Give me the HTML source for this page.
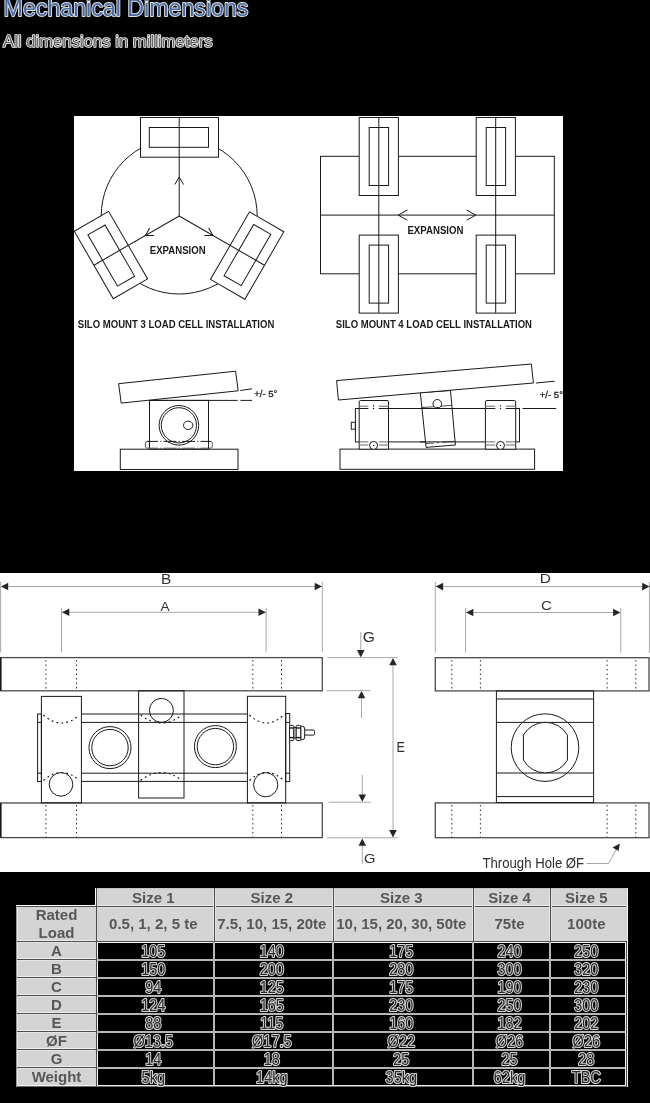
<!DOCTYPE html>
<html><head><meta charset="utf-8">
<style>
html,body{margin:0;padding:0;background:#000;width:650px;height:1103px;overflow:hidden;position:relative;font-family:"Liberation Sans",sans-serif;}
svg.d{position:absolute;left:0;top:0;will-change:transform;}
svg text{font-family:"Liberation Sans",sans-serif;}
</style></head><body>
<svg class="d" width="650" height="1103" viewBox="0 0 650 1103">
<defs><clipPath id="c1"><rect x="74" y="116" width="489" height="355"/></clipPath></defs>
<text x="3.6" y="16" font-size="23.2" fill="#4569a2" stroke="#e2e2e2" stroke-width="1.8" paint-order="stroke" stroke-linejoin="round">Mechanical Dimensions</text>
<text x="3" y="47" font-size="16.7" fill="#666" stroke="#f4f4f4" stroke-width="1.6" paint-order="stroke" stroke-linejoin="round">All dimensions in millimeters</text>
<rect x="74" y="116" width="489" height="355" fill="#fff"/>
<g clip-path="url(#c1)">
<circle cx="179.2" cy="216" r="78" fill="none" stroke="#1a1a1a" stroke-width="1"/>
<g transform="rotate(0 179.2 216)"><rect x="140.5" y="117.5" width="78" height="39.7" fill="#fff" stroke="#1a1a1a"/><rect x="149.3" y="127.5" width="59.2" height="19.8" fill="none" stroke="#1a1a1a"/><line x1="179.2" y1="117.5" x2="179.2" y2="216" stroke="#1a1a1a"/><polyline points="174.89999999999998,184.5 179.2,177 183.5,184.5" fill="none" stroke="#1a1a1a"/></g>
<g transform="rotate(120 179.2 216)"><rect x="140.5" y="117.5" width="78" height="39.7" fill="#fff" stroke="#1a1a1a"/><rect x="149.3" y="127.5" width="59.2" height="19.8" fill="none" stroke="#1a1a1a"/><line x1="179.2" y1="117.5" x2="179.2" y2="216" stroke="#1a1a1a"/><polyline points="174.89999999999998,184.5 179.2,177 183.5,184.5" fill="none" stroke="#1a1a1a"/></g>
<g transform="rotate(240 179.2 216)"><rect x="140.5" y="117.5" width="78" height="39.7" fill="#fff" stroke="#1a1a1a"/><rect x="149.3" y="127.5" width="59.2" height="19.8" fill="none" stroke="#1a1a1a"/><line x1="179.2" y1="117.5" x2="179.2" y2="216" stroke="#1a1a1a"/><polyline points="174.89999999999998,184.5 179.2,177 183.5,184.5" fill="none" stroke="#1a1a1a"/></g>
<text transform="matrix(0.9596 0 0 1.0625 149.84 253.80)" font-size="10" font-weight="bold" fill="#1a1a1a" >EXPANSION</text>
<text transform="matrix(0.9299 0 0 1.0625 77.80 327.80)" font-size="10.3" font-weight="bold" fill="#1a1a1a" >SILO MOUNT 3 LOAD CELL INSTALLATION</text>
<rect x="320.5" y="156.3" width="233.8" height="117.5" fill="none" stroke="#1a1a1a"/>
<line x1="320.5" y1="215.1" x2="554.3" y2="215.1" stroke="#1a1a1a"/>
<rect x="359.2" y="117.5" width="39.2" height="78" fill="#fff" stroke="#1a1a1a"/>
<rect x="369.2" y="127.5" width="19.4" height="58" fill="none" stroke="#1a1a1a"/>
<rect x="476.2" y="117.5" width="39.2" height="78" fill="#fff" stroke="#1a1a1a"/>
<rect x="486.2" y="127.5" width="19.4" height="58" fill="none" stroke="#1a1a1a"/>
<rect x="359.2" y="235.1" width="39.2" height="78" fill="#fff" stroke="#1a1a1a"/>
<rect x="369.2" y="245.1" width="19.4" height="58" fill="none" stroke="#1a1a1a"/>
<rect x="476.2" y="235.1" width="39.2" height="78" fill="#fff" stroke="#1a1a1a"/>
<rect x="486.2" y="245.1" width="19.4" height="58" fill="none" stroke="#1a1a1a"/>
<line x1="378.8" y1="117.5" x2="378.8" y2="312.9" stroke="#1a1a1a"/>
<line x1="495.7" y1="117.5" x2="495.7" y2="312.9" stroke="#1a1a1a"/>
<polyline points="407.4,210 398.2,215.1 407.4,220.2" fill="none" stroke="#1a1a1a"/>
<polyline points="466.6,210 475.8,215.1 466.6,220.2" fill="none" stroke="#1a1a1a"/>
<text transform="matrix(0.9649 0 0 1.0250 407.44 233.50)" font-size="10" font-weight="bold" fill="#1a1a1a" >EXPANSION</text>
<text transform="matrix(0.9284 0 0 1.0500 335.80 327.70)" font-size="10.3" font-weight="bold" fill="#1a1a1a" >SILO MOUNT 4 LOAD CELL INSTALLATION</text>
<rect x="120.3" y="449.2" width="117.7" height="20.3" fill="none" stroke="#1a1a1a"/>
<line x1="149.5" y1="400.4" x2="237.7" y2="400.4" stroke="#1a1a1a"/>
<line x1="240.5" y1="400.4" x2="252" y2="400.4" stroke="#1a1a1a"/>
<rect x="149.5" y="400.4" width="59" height="48.8" fill="none" stroke="#1a1a1a"/>
<polygon points="118.6,383.7 235.6,371.2 238.2,390.8 121.2,403.1" fill="#fff" stroke="#1a1a1a"/>
<line x1="240.3" y1="390.5" x2="252" y2="388.8" stroke="#1a1a1a"/>
<circle cx="178.9" cy="425.3" r="19.8" fill="#fff" stroke="#1a1a1a"/>
<circle cx="178.9" cy="425.3" r="17.6" fill="none" stroke="#1a1a1a"/>
<ellipse cx="188.2" cy="425.3" rx="4.7" ry="4.2" fill="none" stroke="#1a1a1a"/>
<path d="M147.4,441.4 Q145.4,441.4 145.4,443.4 V446.2 Q145.4,448.2 147.4,448.2 M210.3,441.4 Q212.3,441.4 212.3,443.4 V446.2 Q212.3,448.2 210.3,448.2" fill="none" stroke="#555"/>
<line x1="147" y1="441.4" x2="210.6" y2="441.4" stroke="#1a1a1a" stroke-dasharray="11,2.2,1.2,2.2,12.8,2.2,1.2,2.2,13,2.2,1.2,2.2,20"/>
<line x1="147" y1="448.2" x2="210.6" y2="448.2" stroke="#555" stroke-dasharray="11,2.2,1.2,2.2,12.8,2.2,1.2,2.2,13,2.2,1.2,2.2,20"/>
<text transform="matrix(0.9542 0 0 0.8875 254.20 397.30)" font-size="10" font-weight="normal" fill="#1a1a1a" stroke="#1a1a1a" stroke-width="0.3">+/- 5°</text>
<rect x="340" y="449.1" width="194.6" height="20.2" fill="none" stroke="#1a1a1a"/>
<rect x="355.4" y="408.5" width="164.1" height="33.4" fill="none" stroke="#1a1a1a"/>
<rect x="351.3" y="422.3" width="4.1" height="6.9" fill="none" stroke="#1a1a1a"/>
<line x1="522.5" y1="408.5" x2="556.2" y2="408.5" stroke="#1a1a1a"/>
<path d="M359.2,449.2 V402 Q359.2,400.5 360.7,400.5 H387.0 Q388.5,400.5 388.5,402 V449.2 Z" fill="#fff" stroke="#1a1a1a"/>
<line x1="359.2" y1="406.2" x2="368.40000000000003" y2="406.2" stroke="#6a6a6a" stroke-width="1"/>
<line x1="378.8" y1="406.2" x2="388.5" y2="406.2" stroke="#6a6a6a" stroke-width="1"/>
<line x1="359.2" y1="408.5" x2="368.40000000000003" y2="408.5" stroke="#1a1a1a" stroke-width="1"/>
<line x1="378.8" y1="408.5" x2="388.5" y2="408.5" stroke="#1a1a1a" stroke-width="1"/>
<line x1="359.2" y1="441.9" x2="368.40000000000003" y2="441.9" stroke="#6a6a6a" stroke-width="1"/>
<line x1="378.8" y1="441.9" x2="388.5" y2="441.9" stroke="#6a6a6a" stroke-width="1"/>
<line x1="359.2" y1="445.0" x2="368.40000000000003" y2="445.0" stroke="#6a6a6a" stroke-width="1"/>
<line x1="378.8" y1="445.0" x2="388.5" y2="445.0" stroke="#6a6a6a" stroke-width="1"/>
<circle cx="373.6" cy="405.8" r="0.7" fill="#1a1a1a"/><circle cx="373.6" cy="408.5" r="0.7" fill="#1a1a1a"/>
<circle cx="373.6" cy="445.4" r="4" fill="#fff" stroke="#1a1a1a"/>
<circle cx="373.6" cy="445.4" r="0.7" fill="#1a1a1a"/>
<path d="M485.4,449.2 V402 Q485.4,400.5 486.9,400.5 H514.1999999999999 Q515.6999999999999,400.5 515.6999999999999,402 V449.2 Z" fill="#fff" stroke="#1a1a1a"/>
<line x1="485.4" y1="406.2" x2="495.3" y2="406.2" stroke="#6a6a6a" stroke-width="1"/>
<line x1="505.7" y1="406.2" x2="515.6999999999999" y2="406.2" stroke="#6a6a6a" stroke-width="1"/>
<line x1="485.4" y1="408.5" x2="495.3" y2="408.5" stroke="#1a1a1a" stroke-width="1"/>
<line x1="505.7" y1="408.5" x2="515.6999999999999" y2="408.5" stroke="#1a1a1a" stroke-width="1"/>
<line x1="485.4" y1="441.9" x2="495.3" y2="441.9" stroke="#6a6a6a" stroke-width="1"/>
<line x1="505.7" y1="441.9" x2="515.6999999999999" y2="441.9" stroke="#6a6a6a" stroke-width="1"/>
<line x1="485.4" y1="445.0" x2="495.3" y2="445.0" stroke="#6a6a6a" stroke-width="1"/>
<line x1="505.7" y1="445.0" x2="515.6999999999999" y2="445.0" stroke="#6a6a6a" stroke-width="1"/>
<circle cx="500.5" cy="405.8" r="0.7" fill="#1a1a1a"/><circle cx="500.5" cy="408.5" r="0.7" fill="#1a1a1a"/>
<circle cx="500.5" cy="445.4" r="4" fill="#fff" stroke="#1a1a1a"/>
<circle cx="500.5" cy="445.4" r="0.7" fill="#1a1a1a"/>
<polygon points="420.3,392.7 450.5,390.5 455.4,445 426.1,447.4" fill="#fff" stroke="#1a1a1a"/>
<line x1="420" y1="408.5" x2="456" y2="408.5" stroke="#1a1a1a"/>
<line x1="420" y1="441.9" x2="456" y2="441.9" stroke="#1a1a1a"/>
<line x1="421.7" y1="407.6" x2="451.8" y2="405.4" stroke="#1a1a1a" stroke-width="0.8"/>
<line x1="425.8" y1="443.6" x2="454.9" y2="441.2" stroke="#1a1a1a" stroke-width="0.8" stroke-dasharray="8,3,2,3,12"/>
<circle cx="437.3" cy="403.8" r="4.3" fill="#fff" stroke="#1a1a1a"/>
<circle cx="437.3" cy="407.6" r="0.9" fill="#1a1a1a"/>
<polygon points="336.6,380.6 531.4,364 533.4,383 338.4,400" fill="#fff" stroke="#1a1a1a"/>
<line x1="536" y1="383" x2="554.6" y2="381.2" stroke="#1a1a1a"/>
<text transform="matrix(0.9542 0 0 0.8875 539.80 398.20)" font-size="10" font-weight="normal" fill="#1a1a1a" stroke="#1a1a1a" stroke-width="0.3">+/- 5°</text>
</g>
<rect x="0" y="573" width="650" height="299" fill="#fff"/>
<line x1="2" y1="586.5" x2="322" y2="586.5" stroke="#a8a8a8" stroke-width="1"/>
<line x1="0.6" y1="581.8" x2="0.6" y2="652.4" stroke="#a8a8a8" stroke-width="1"/>
<line x1="322.3" y1="581.8" x2="322.3" y2="652.4" stroke="#a8a8a8" stroke-width="1"/>
<polygon points="0.9,586.5 8.2,582.7 8.2,590.3" fill="#262626"/>
<polygon points="322,586.5 314.7,582.7 314.7,590.3" fill="#262626"/>
<line x1="62" y1="612.3" x2="266" y2="612.3" stroke="#a8a8a8" stroke-width="1"/>
<line x1="61.5" y1="608" x2="61.5" y2="652.4" stroke="#a8a8a8" stroke-width="1"/>
<line x1="266.1" y1="608" x2="266.1" y2="652.4" stroke="#a8a8a8" stroke-width="1"/>
<polygon points="62,612.3 69.3,608.5 69.3,616.0999999999999" fill="#262626"/>
<polygon points="265.8,612.3 258.5,608.5 258.5,616.0999999999999" fill="#262626"/>
<line x1="436" y1="586.6" x2="648.5" y2="586.6" stroke="#a8a8a8" stroke-width="1"/>
<line x1="435.3" y1="582" x2="435.3" y2="652.7" stroke="#a8a8a8" stroke-width="1"/>
<line x1="649.4" y1="582" x2="649.4" y2="652.7" stroke="#a8a8a8" stroke-width="1"/>
<polygon points="435.8,586.6 443.1,582.8000000000001 443.1,590.4" fill="#262626"/>
<polygon points="649.5,586.6 642.2,582.8000000000001 642.2,590.4" fill="#262626"/>
<line x1="466" y1="612.5" x2="620.5" y2="612.5" stroke="#a8a8a8" stroke-width="1"/>
<line x1="465.6" y1="607.8" x2="465.6" y2="652.7" stroke="#a8a8a8" stroke-width="1"/>
<line x1="620.8" y1="607.8" x2="620.8" y2="652.7" stroke="#a8a8a8" stroke-width="1"/>
<polygon points="466.1,612.5 473.40000000000003,608.7 473.40000000000003,616.3" fill="#262626"/>
<polygon points="620.4,612.5 613.1,608.7 613.1,616.3" fill="#262626"/>
<line x1="360.8" y1="632.2" x2="360.8" y2="652" stroke="#a8a8a8" stroke-width="1"/>
<polygon points="360.8,657.4 357.0,650.1 364.6,650.1" fill="#262626"/>
<line x1="327.3" y1="657.6" x2="397.4" y2="657.6" stroke="#a8a8a8" stroke-width="1"/>
<line x1="326.4" y1="690.7" x2="370.8" y2="690.7" stroke="#a8a8a8" stroke-width="1"/>
<line x1="328.5" y1="802.2" x2="370.8" y2="802.2" stroke="#a8a8a8" stroke-width="1"/>
<line x1="327.1" y1="837.8" x2="397.7" y2="837.8" stroke="#a8a8a8" stroke-width="1"/>
<line x1="361.5" y1="697" x2="361.5" y2="718" stroke="#a8a8a8" stroke-width="1"/>
<polygon points="361.5,691 357.7,698.3 365.3,698.3" fill="#262626"/>
<line x1="362.3" y1="774.8" x2="362.3" y2="795" stroke="#a8a8a8" stroke-width="1"/>
<polygon points="362.3,801.8 358.5,794.5 366.1,794.5" fill="#262626"/>
<line x1="393" y1="664" x2="393" y2="831" stroke="#a8a8a8" stroke-width="1"/>
<polygon points="393,658 389.2,665.3 396.8,665.3" fill="#262626"/>
<polygon points="393,837.4 389.2,830.1 396.8,830.1" fill="#262626"/>
<line x1="362.3" y1="844" x2="362.3" y2="863.8" stroke="#a8a8a8" stroke-width="1"/>
<polygon points="362.3,838.5 358.5,845.8 366.1,845.8" fill="#262626"/>
<text transform="matrix(1.1571 0 0 1.0778 161.04 583.90)" font-size="13.3" font-weight="normal" fill="#2e2e2e" >B</text>
<text transform="matrix(1.0222 0 0 1.0222 160.50 610.60)" font-size="13.3" font-weight="normal" fill="#2e2e2e" >A</text>
<text transform="matrix(1.1625 0 0 1.0000 539.84 583.00)" font-size="13.3" font-weight="normal" fill="#2e2e2e" >D</text>
<text transform="matrix(1.1250 0 0 1.0222 540.88 609.70)" font-size="13.3" font-weight="normal" fill="#2e2e2e" >C</text>
<text transform="matrix(1.1667 0 0 1.0667 362.73 642.40)" font-size="13.3" font-weight="normal" fill="#2e2e2e" >G</text>
<text transform="matrix(0.9375 0 0 1.0889 396.56 752.40)" font-size="13.3" font-weight="normal" fill="#2e2e2e" >E</text>
<text transform="matrix(1.1111 0 0 0.9778 363.89 863.00)" font-size="13.3" font-weight="normal" fill="#2e2e2e" >G</text>
<text transform="matrix(0.9902 0 0 1.0667 482.50 867.50)" font-size="13.3" font-weight="normal" fill="#2e2e2e" >Through Hole ØF</text>
<polyline points="586.5,863.5 608.5,863.5 616.5,849" fill="none" stroke="#a8a8a8"/>
<polygon points="619.9,843.5 612.5,847.5 618.5,851" fill="#262626"/>
<rect x="0.8" y="657.6" width="321.5" height="33.2" fill="none" stroke="#4a4a4a" stroke-width="1.3"/>
<rect x="0.8" y="803" width="321.5" height="34.6" fill="none" stroke="#4a4a4a" stroke-width="1.3"/>
<line x1="0.7" y1="657.6" x2="0.7" y2="690.8" stroke="#1a1a1a" stroke-width="1.4"/>
<line x1="0.7" y1="803" x2="0.7" y2="837.6" stroke="#1a1a1a" stroke-width="1.4"/>
<line x1="45.9" y1="660" x2="45.9" y2="690" stroke="#1a1a1a" stroke-width="0.9" stroke-dasharray="1.5,3"/>
<line x1="45.9" y1="805" x2="45.9" y2="837" stroke="#1a1a1a" stroke-width="0.9" stroke-dasharray="1.5,3"/>
<line x1="76.5" y1="660" x2="76.5" y2="690" stroke="#1a1a1a" stroke-width="0.9" stroke-dasharray="1.5,3"/>
<line x1="76.5" y1="805" x2="76.5" y2="837" stroke="#1a1a1a" stroke-width="0.9" stroke-dasharray="1.5,3"/>
<line x1="252.8" y1="660" x2="252.8" y2="690" stroke="#1a1a1a" stroke-width="0.9" stroke-dasharray="1.5,3"/>
<line x1="252.8" y1="805" x2="252.8" y2="837" stroke="#1a1a1a" stroke-width="0.9" stroke-dasharray="1.5,3"/>
<line x1="281.5" y1="660" x2="281.5" y2="690" stroke="#1a1a1a" stroke-width="0.9" stroke-dasharray="1.5,3"/>
<line x1="281.5" y1="805" x2="281.5" y2="837" stroke="#1a1a1a" stroke-width="0.9" stroke-dasharray="1.5,3"/>
<rect x="37.6" y="714" width="3.8" height="67.6" fill="none" stroke="#1a1a1a"/>
<line x1="37.6" y1="722.4" x2="41.4" y2="722.4" stroke="#1a1a1a" stroke-width="1"/>
<line x1="37.6" y1="773.2" x2="41.4" y2="773.2" stroke="#1a1a1a" stroke-width="1"/>
<rect x="285.7" y="713.5" width="4" height="68.1" fill="none" stroke="#1a1a1a"/>
<line x1="285.7" y1="722.4" x2="289.7" y2="722.4" stroke="#1a1a1a" stroke-width="1"/>
<line x1="285.7" y1="773.2" x2="289.7" y2="773.2" stroke="#1a1a1a" stroke-width="1"/>
<line x1="81.4" y1="714" x2="247.4" y2="714" stroke="#1a1a1a" stroke-width="1"/>
<line x1="81.4" y1="722.4" x2="247.4" y2="722.4" stroke="#1a1a1a" stroke-width="1"/>
<line x1="81.4" y1="773.2" x2="247.4" y2="773.2" stroke="#1a1a1a" stroke-width="1"/>
<line x1="81.4" y1="781.4" x2="247.4" y2="781.4" stroke="#1a1a1a" stroke-width="1"/>
<rect x="41.4" y="696.4" width="40" height="106.4" fill="none" stroke="#1a1a1a"/>
<rect x="247.4" y="696.3" width="38.3" height="106.5" fill="none" stroke="#1a1a1a"/>
<rect x="138.6" y="690.8" width="45.4" height="107.2" fill="none" stroke="#1a1a1a"/>
<path d="M43.4,715 Q61.400000000000006,731 79.4,715" fill="none" stroke="#1a1a1a" stroke-width="1.2" stroke-dasharray="1.8,3.2"/>
<path d="M43.4,780.5 Q61.400000000000006,764.5 79.4,780.5" fill="none" stroke="#1a1a1a" stroke-width="1.2" stroke-dasharray="1.8,3.2"/>
<path d="M140.6,715 Q161.3,731 182,715" fill="none" stroke="#1a1a1a" stroke-width="1.2" stroke-dasharray="1.8,3.2"/>
<path d="M140.6,780.5 Q161.3,764.5 182,780.5" fill="none" stroke="#1a1a1a" stroke-width="1.2" stroke-dasharray="1.8,3.2"/>
<path d="M249.4,715 Q266.55,731 283.7,715" fill="none" stroke="#1a1a1a" stroke-width="1.2" stroke-dasharray="1.8,3.2"/>
<path d="M249.4,780.5 Q266.55,764.5 283.7,780.5" fill="none" stroke="#1a1a1a" stroke-width="1.2" stroke-dasharray="1.8,3.2"/>
<circle cx="110" cy="747.6" r="21" fill="none" stroke="#1a1a1a"/>
<circle cx="110" cy="747.6" r="18.2" fill="none" stroke="#1a1a1a"/>
<circle cx="215.4" cy="746.6" r="21" fill="none" stroke="#1a1a1a"/>
<circle cx="215.4" cy="746.6" r="18.2" fill="none" stroke="#1a1a1a"/>
<circle cx="161.4" cy="710.4" r="12" fill="none" stroke="#1a1a1a"/>
<circle cx="61" cy="784.4" r="11.8" fill="none" stroke="#1a1a1a"/>
<circle cx="265.7" cy="784.7" r="12.1" fill="none" stroke="#1a1a1a"/>
<rect x="289.5" y="725.4" width="4.4" height="15.1" rx="1.2" fill="#fff" stroke="#1a1a1a"/>
<line x1="289.5" y1="728.0" x2="293.9" y2="728.0" stroke="#1a1a1a" stroke-width="1.4"/>
<line x1="289.5" y1="737.6" x2="293.9" y2="737.6" stroke="#1a1a1a" stroke-width="1.4"/>
<rect x="296" y="725.4" width="4.9" height="15.1" rx="1.2" fill="#fff" stroke="#1a1a1a"/>
<line x1="296" y1="728.0" x2="300.9" y2="728.0" stroke="#1a1a1a" stroke-width="1.4"/>
<line x1="296" y1="737.6" x2="300.9" y2="737.6" stroke="#1a1a1a" stroke-width="1.4"/>
<rect x="293.9" y="727.6" width="2.1" height="10.2" fill="#fff" stroke="#1a1a1a"/>
<path d="M300.9,726.2 H302.3 Q304.7,726.2 304.7,729 V737 Q304.7,739.7 302.3,739.7 H300.9 Z" fill="#fff" stroke="#1a1a1a"/>
<path d="M304.7,730 H313.3 Q314.6,730 314.6,731.5 V733.6 Q314.6,735.1 313.3,735.1 H304.7" fill="none" stroke="#1a1a1a"/>
<rect x="435.3" y="657.7" width="213.7" height="33.2" fill="none" stroke="#4a4a4a" stroke-width="1.3"/>
<rect x="435.3" y="802.9" width="213.7" height="34.8" fill="none" stroke="#4a4a4a" stroke-width="1.3"/>
<line x1="451.8" y1="660" x2="451.8" y2="690" stroke="#1a1a1a" stroke-width="0.9" stroke-dasharray="1.5,3"/>
<line x1="451.8" y1="805" x2="451.8" y2="837" stroke="#1a1a1a" stroke-width="0.9" stroke-dasharray="1.5,3"/>
<line x1="480.4" y1="660" x2="480.4" y2="690" stroke="#1a1a1a" stroke-width="0.9" stroke-dasharray="1.5,3"/>
<line x1="480.4" y1="805" x2="480.4" y2="837" stroke="#1a1a1a" stroke-width="0.9" stroke-dasharray="1.5,3"/>
<line x1="607.1" y1="660" x2="607.1" y2="690" stroke="#1a1a1a" stroke-width="0.9" stroke-dasharray="1.5,3"/>
<line x1="607.1" y1="805" x2="607.1" y2="837" stroke="#1a1a1a" stroke-width="0.9" stroke-dasharray="1.5,3"/>
<line x1="635.8" y1="660" x2="635.8" y2="690" stroke="#1a1a1a" stroke-width="0.9" stroke-dasharray="1.5,3"/>
<line x1="635.8" y1="805" x2="635.8" y2="837" stroke="#1a1a1a" stroke-width="0.9" stroke-dasharray="1.5,3"/>
<rect x="496.4" y="690.9" width="97.2" height="111.6" fill="none" stroke="#1a1a1a"/>
<line x1="496.4" y1="699" x2="593.6" y2="699" stroke="#1a1a1a" stroke-width="1"/>
<line x1="496.4" y1="722.4" x2="593.6" y2="722.4" stroke="#1a1a1a" stroke-width="1"/>
<line x1="496.4" y1="773" x2="593.6" y2="773" stroke="#1a1a1a" stroke-width="1"/>
<line x1="496.4" y1="796.6" x2="593.6" y2="796.6" stroke="#1a1a1a" stroke-width="1"/>
<circle cx="545" cy="747.6" r="33.8" fill="none" stroke="#1a1a1a"/>
<path d="M523.4,735.1 A25.3,25.3 0 0 1 567.4,735.1 V760.1 A25.3,25.3 0 0 1 523.4,760.1 Z" fill="#fff" stroke="#1a1a1a"/>
<g shape-rendering="crispEdges">
<rect x="96" y="888" width="531" height="53" fill="#d4d4d4"/>
<rect x="16" y="905" width="80" height="182" fill="#d4d4d4"/>
<rect x="96" y="941" width="531" height="146" fill="#000"/>
<rect x="96" y="888" width="531" height="1" fill="#c4c4c4"/>
<rect x="96" y="906" width="531" height="1" fill="#4e4e4e"/>
<rect x="96" y="905" width="531" height="1" fill="#ececec"/>
<rect x="96" y="907" width="531" height="1" fill="#e2e2e2"/>
<rect x="214" y="888" width="1" height="53" fill="#4e4e4e"/>
<rect x="215" y="889" width="1" height="52" fill="#e2e2e2"/>
<rect x="213" y="889" width="1" height="52" fill="#e6e6e6"/>
<rect x="333" y="888" width="1" height="53" fill="#4e4e4e"/>
<rect x="334" y="889" width="1" height="52" fill="#e2e2e2"/>
<rect x="332" y="889" width="1" height="52" fill="#e6e6e6"/>
<rect x="473" y="888" width="1" height="53" fill="#4e4e4e"/>
<rect x="474" y="889" width="1" height="52" fill="#e2e2e2"/>
<rect x="472" y="889" width="1" height="52" fill="#e6e6e6"/>
<rect x="550" y="888" width="1" height="53" fill="#4e4e4e"/>
<rect x="551" y="889" width="1" height="52" fill="#e2e2e2"/>
<rect x="549" y="889" width="1" height="52" fill="#e6e6e6"/>
<rect x="16" y="905" width="80" height="1" fill="#ffffff"/>
<rect x="17" y="906" width="79" height="1" fill="#4e4e4e"/>
<rect x="16" y="906" width="1" height="181" fill="#9a9a9a"/>
<rect x="17" y="907" width="1" height="178" fill="#e8e8e8"/>
<rect x="95" y="888" width="1" height="17" fill="#ffffff"/>
<rect x="17" y="941" width="79" height="1" fill="#4e4e4e"/>
<rect x="18" y="940" width="77" height="1" fill="#eeeeee"/>
<rect x="18" y="942" width="77" height="1" fill="#e4e4e4"/>
<rect x="17" y="959" width="79" height="1" fill="#4e4e4e"/>
<rect x="18" y="958" width="77" height="1" fill="#eeeeee"/>
<rect x="18" y="960" width="77" height="1" fill="#e4e4e4"/>
<rect x="17" y="977" width="79" height="1" fill="#4e4e4e"/>
<rect x="18" y="976" width="77" height="1" fill="#eeeeee"/>
<rect x="18" y="978" width="77" height="1" fill="#e4e4e4"/>
<rect x="17" y="995" width="79" height="1" fill="#4e4e4e"/>
<rect x="18" y="994" width="77" height="1" fill="#eeeeee"/>
<rect x="18" y="996" width="77" height="1" fill="#e4e4e4"/>
<rect x="17" y="1013" width="79" height="1" fill="#4e4e4e"/>
<rect x="18" y="1012" width="77" height="1" fill="#eeeeee"/>
<rect x="18" y="1014" width="77" height="1" fill="#e4e4e4"/>
<rect x="17" y="1031" width="79" height="1" fill="#4e4e4e"/>
<rect x="18" y="1030" width="77" height="1" fill="#eeeeee"/>
<rect x="18" y="1032" width="77" height="1" fill="#e4e4e4"/>
<rect x="17" y="1049" width="79" height="1" fill="#4e4e4e"/>
<rect x="18" y="1048" width="77" height="1" fill="#eeeeee"/>
<rect x="18" y="1050" width="77" height="1" fill="#e4e4e4"/>
<rect x="17" y="1067" width="79" height="1" fill="#4e4e4e"/>
<rect x="18" y="1066" width="77" height="1" fill="#eeeeee"/>
<rect x="18" y="1068" width="77" height="1" fill="#e4e4e4"/>
<rect x="17" y="1086" width="79" height="1" fill="#4e4e4e"/>
<rect x="18" y="1085" width="77" height="1" fill="#eeeeee"/>
<rect x="96" y="941" width="531" height="1" fill="#4e4e4e"/>
<rect x="97" y="942" width="529" height="1" fill="#f4f4f4"/>
<rect x="96" y="888" width="1" height="199" fill="#4e4e4e"/>
<rect x="97" y="942" width="1" height="143" fill="#f4f4f4"/>
<rect x="97" y="959" width="529" height="2" fill="#b6b6b6"/>
<rect x="97" y="977" width="529" height="2" fill="#b6b6b6"/>
<rect x="97" y="995" width="529" height="2" fill="#b6b6b6"/>
<rect x="97" y="1013" width="529" height="2" fill="#b6b6b6"/>
<rect x="97" y="1031" width="529" height="2" fill="#b6b6b6"/>
<rect x="97" y="1049" width="529" height="2" fill="#b6b6b6"/>
<rect x="97" y="1067" width="529" height="2" fill="#b6b6b6"/>
<rect x="213" y="942" width="2" height="143" fill="#b6b6b6"/>
<rect x="332" y="942" width="2" height="143" fill="#b6b6b6"/>
<rect x="472" y="942" width="2" height="143" fill="#b6b6b6"/>
<rect x="549" y="942" width="2" height="143" fill="#b6b6b6"/>
<rect x="625" y="942" width="1" height="143" fill="#f0f0f0"/>
<rect x="626" y="941" width="1" height="146" fill="#4e4e4e"/>
<rect x="626" y="888" width="1" height="53" fill="#d0d0d0"/>
<rect x="627" y="888" width="1" height="199" fill="#f2f2f2"/>
<rect x="97" y="1085" width="529" height="1" fill="#f0f0f0"/>
<rect x="17" y="1086" width="610" height="1" fill="#6a6a6a"/>
</g>
<text x="153.3" y="902.5" text-anchor="middle" font-size="15" font-weight="bold" fill="#575757">Size 1</text>
<text x="271.8" y="902.5" text-anchor="middle" font-size="15" font-weight="bold" fill="#575757">Size 2</text>
<text x="401.3" y="902.5" text-anchor="middle" font-size="15" font-weight="bold" fill="#575757">Size 3</text>
<text x="509.55" y="902.5" text-anchor="middle" font-size="15" font-weight="bold" fill="#575757">Size 4</text>
<text x="586.3" y="902.5" text-anchor="middle" font-size="15" font-weight="bold" fill="#575757">Size 5</text>
<text x="153.3" y="929.3" text-anchor="middle" font-size="15" font-weight="bold" fill="#575757">0.5, 1, 2, 5 te</text>
<text x="271.8" y="929.3" text-anchor="middle" font-size="15" font-weight="bold" fill="#575757">7.5, 10, 15, 20te</text>
<text x="401.3" y="929.3" text-anchor="middle" font-size="15" font-weight="bold" fill="#575757">10, 15, 20, 30, 50te</text>
<text x="509.55" y="929.3" text-anchor="middle" font-size="15" font-weight="bold" fill="#575757">75te</text>
<text x="586.3" y="929.3" text-anchor="middle" font-size="15" font-weight="bold" fill="#575757">100te</text>
<text x="56.5" y="920.2" text-anchor="middle" font-size="15" font-weight="bold" fill="#575757">Rated</text>
<text x="56.5" y="937.6" text-anchor="middle" font-size="15" font-weight="bold" fill="#575757">Load</text>
<text x="56.5" y="956.00" text-anchor="middle" font-size="15" font-weight="bold" fill="#575757">A</text>
<text transform="translate(153.3,956.50) scale(1,1.08)" text-anchor="middle" font-size="14.5" fill="#2a2a2a" stroke="#d6d6d6" stroke-width="2" paint-order="stroke" stroke-linejoin="round">105</text>
<text transform="translate(271.8,956.50) scale(1,1.08)" text-anchor="middle" font-size="14.5" fill="#2a2a2a" stroke="#d6d6d6" stroke-width="2" paint-order="stroke" stroke-linejoin="round">140</text>
<text transform="translate(401.3,956.50) scale(1,1.08)" text-anchor="middle" font-size="14.5" fill="#2a2a2a" stroke="#d6d6d6" stroke-width="2" paint-order="stroke" stroke-linejoin="round">175</text>
<text transform="translate(509.55,956.50) scale(1,1.08)" text-anchor="middle" font-size="14.5" fill="#2a2a2a" stroke="#d6d6d6" stroke-width="2" paint-order="stroke" stroke-linejoin="round">240</text>
<text transform="translate(586.3,956.50) scale(1,1.08)" text-anchor="middle" font-size="14.5" fill="#2a2a2a" stroke="#d6d6d6" stroke-width="2" paint-order="stroke" stroke-linejoin="round">250</text>
<text x="56.5" y="974.07" text-anchor="middle" font-size="15" font-weight="bold" fill="#575757">B</text>
<text transform="translate(153.3,974.57) scale(1,1.08)" text-anchor="middle" font-size="14.5" fill="#2a2a2a" stroke="#d6d6d6" stroke-width="2" paint-order="stroke" stroke-linejoin="round">150</text>
<text transform="translate(271.8,974.57) scale(1,1.08)" text-anchor="middle" font-size="14.5" fill="#2a2a2a" stroke="#d6d6d6" stroke-width="2" paint-order="stroke" stroke-linejoin="round">200</text>
<text transform="translate(401.3,974.57) scale(1,1.08)" text-anchor="middle" font-size="14.5" fill="#2a2a2a" stroke="#d6d6d6" stroke-width="2" paint-order="stroke" stroke-linejoin="round">280</text>
<text transform="translate(509.55,974.57) scale(1,1.08)" text-anchor="middle" font-size="14.5" fill="#2a2a2a" stroke="#d6d6d6" stroke-width="2" paint-order="stroke" stroke-linejoin="round">300</text>
<text transform="translate(586.3,974.57) scale(1,1.08)" text-anchor="middle" font-size="14.5" fill="#2a2a2a" stroke="#d6d6d6" stroke-width="2" paint-order="stroke" stroke-linejoin="round">320</text>
<text x="56.5" y="992.14" text-anchor="middle" font-size="15" font-weight="bold" fill="#575757">C</text>
<text transform="translate(153.3,992.64) scale(1,1.08)" text-anchor="middle" font-size="14.5" fill="#2a2a2a" stroke="#d6d6d6" stroke-width="2" paint-order="stroke" stroke-linejoin="round">94</text>
<text transform="translate(271.8,992.64) scale(1,1.08)" text-anchor="middle" font-size="14.5" fill="#2a2a2a" stroke="#d6d6d6" stroke-width="2" paint-order="stroke" stroke-linejoin="round">125</text>
<text transform="translate(401.3,992.64) scale(1,1.08)" text-anchor="middle" font-size="14.5" fill="#2a2a2a" stroke="#d6d6d6" stroke-width="2" paint-order="stroke" stroke-linejoin="round">175</text>
<text transform="translate(509.55,992.64) scale(1,1.08)" text-anchor="middle" font-size="14.5" fill="#2a2a2a" stroke="#d6d6d6" stroke-width="2" paint-order="stroke" stroke-linejoin="round">190</text>
<text transform="translate(586.3,992.64) scale(1,1.08)" text-anchor="middle" font-size="14.5" fill="#2a2a2a" stroke="#d6d6d6" stroke-width="2" paint-order="stroke" stroke-linejoin="round">230</text>
<text x="56.5" y="1010.21" text-anchor="middle" font-size="15" font-weight="bold" fill="#575757">D</text>
<text transform="translate(153.3,1010.71) scale(1,1.08)" text-anchor="middle" font-size="14.5" fill="#2a2a2a" stroke="#d6d6d6" stroke-width="2" paint-order="stroke" stroke-linejoin="round">124</text>
<text transform="translate(271.8,1010.71) scale(1,1.08)" text-anchor="middle" font-size="14.5" fill="#2a2a2a" stroke="#d6d6d6" stroke-width="2" paint-order="stroke" stroke-linejoin="round">165</text>
<text transform="translate(401.3,1010.71) scale(1,1.08)" text-anchor="middle" font-size="14.5" fill="#2a2a2a" stroke="#d6d6d6" stroke-width="2" paint-order="stroke" stroke-linejoin="round">230</text>
<text transform="translate(509.55,1010.71) scale(1,1.08)" text-anchor="middle" font-size="14.5" fill="#2a2a2a" stroke="#d6d6d6" stroke-width="2" paint-order="stroke" stroke-linejoin="round">250</text>
<text transform="translate(586.3,1010.71) scale(1,1.08)" text-anchor="middle" font-size="14.5" fill="#2a2a2a" stroke="#d6d6d6" stroke-width="2" paint-order="stroke" stroke-linejoin="round">300</text>
<text x="56.5" y="1028.28" text-anchor="middle" font-size="15" font-weight="bold" fill="#575757">E</text>
<text transform="translate(153.3,1028.78) scale(1,1.08)" text-anchor="middle" font-size="14.5" fill="#2a2a2a" stroke="#d6d6d6" stroke-width="2" paint-order="stroke" stroke-linejoin="round">88</text>
<text transform="translate(271.8,1028.78) scale(1,1.08)" text-anchor="middle" font-size="14.5" fill="#2a2a2a" stroke="#d6d6d6" stroke-width="2" paint-order="stroke" stroke-linejoin="round">115</text>
<text transform="translate(401.3,1028.78) scale(1,1.08)" text-anchor="middle" font-size="14.5" fill="#2a2a2a" stroke="#d6d6d6" stroke-width="2" paint-order="stroke" stroke-linejoin="round">160</text>
<text transform="translate(509.55,1028.78) scale(1,1.08)" text-anchor="middle" font-size="14.5" fill="#2a2a2a" stroke="#d6d6d6" stroke-width="2" paint-order="stroke" stroke-linejoin="round">182</text>
<text transform="translate(586.3,1028.78) scale(1,1.08)" text-anchor="middle" font-size="14.5" fill="#2a2a2a" stroke="#d6d6d6" stroke-width="2" paint-order="stroke" stroke-linejoin="round">202</text>
<text x="56.5" y="1046.35" text-anchor="middle" font-size="15" font-weight="bold" fill="#575757">ØF</text>
<text transform="translate(153.3,1046.85) scale(1,1.08)" text-anchor="middle" font-size="14.5" fill="#2a2a2a" stroke="#d6d6d6" stroke-width="2" paint-order="stroke" stroke-linejoin="round">Ø13.5</text>
<text transform="translate(271.8,1046.85) scale(1,1.08)" text-anchor="middle" font-size="14.5" fill="#2a2a2a" stroke="#d6d6d6" stroke-width="2" paint-order="stroke" stroke-linejoin="round">Ø17.5</text>
<text transform="translate(401.3,1046.85) scale(1,1.08)" text-anchor="middle" font-size="14.5" fill="#2a2a2a" stroke="#d6d6d6" stroke-width="2" paint-order="stroke" stroke-linejoin="round">Ø22</text>
<text transform="translate(509.55,1046.85) scale(1,1.08)" text-anchor="middle" font-size="14.5" fill="#2a2a2a" stroke="#d6d6d6" stroke-width="2" paint-order="stroke" stroke-linejoin="round">Ø26</text>
<text transform="translate(586.3,1046.85) scale(1,1.08)" text-anchor="middle" font-size="14.5" fill="#2a2a2a" stroke="#d6d6d6" stroke-width="2" paint-order="stroke" stroke-linejoin="round">Ø26</text>
<text x="56.5" y="1064.42" text-anchor="middle" font-size="15" font-weight="bold" fill="#575757">G</text>
<text transform="translate(153.3,1064.92) scale(1,1.08)" text-anchor="middle" font-size="14.5" fill="#2a2a2a" stroke="#d6d6d6" stroke-width="2" paint-order="stroke" stroke-linejoin="round">14</text>
<text transform="translate(271.8,1064.92) scale(1,1.08)" text-anchor="middle" font-size="14.5" fill="#2a2a2a" stroke="#d6d6d6" stroke-width="2" paint-order="stroke" stroke-linejoin="round">18</text>
<text transform="translate(401.3,1064.92) scale(1,1.08)" text-anchor="middle" font-size="14.5" fill="#2a2a2a" stroke="#d6d6d6" stroke-width="2" paint-order="stroke" stroke-linejoin="round">25</text>
<text transform="translate(509.55,1064.92) scale(1,1.08)" text-anchor="middle" font-size="14.5" fill="#2a2a2a" stroke="#d6d6d6" stroke-width="2" paint-order="stroke" stroke-linejoin="round">25</text>
<text transform="translate(586.3,1064.92) scale(1,1.08)" text-anchor="middle" font-size="14.5" fill="#2a2a2a" stroke="#d6d6d6" stroke-width="2" paint-order="stroke" stroke-linejoin="round">28</text>
<text x="56.5" y="1082.49" text-anchor="middle" font-size="15" font-weight="bold" fill="#575757">Weight</text>
<text transform="translate(153.3,1082.99) scale(1,1.08)" text-anchor="middle" font-size="14.5" fill="#2a2a2a" stroke="#d6d6d6" stroke-width="2" paint-order="stroke" stroke-linejoin="round">5kg</text>
<text transform="translate(271.8,1082.99) scale(1,1.08)" text-anchor="middle" font-size="14.5" fill="#2a2a2a" stroke="#d6d6d6" stroke-width="2" paint-order="stroke" stroke-linejoin="round">14kg</text>
<text transform="translate(401.3,1082.99) scale(1,1.08)" text-anchor="middle" font-size="14.5" fill="#2a2a2a" stroke="#d6d6d6" stroke-width="2" paint-order="stroke" stroke-linejoin="round">35kg</text>
<text transform="translate(509.55,1082.99) scale(1,1.08)" text-anchor="middle" font-size="14.5" fill="#2a2a2a" stroke="#d6d6d6" stroke-width="2" paint-order="stroke" stroke-linejoin="round">62kg</text>
<text transform="translate(586.3,1082.99) scale(1,1.08)" text-anchor="middle" font-size="14.5" fill="#2a2a2a" stroke="#d6d6d6" stroke-width="2" paint-order="stroke" stroke-linejoin="round">TBC</text>
</svg>
</body></html>
